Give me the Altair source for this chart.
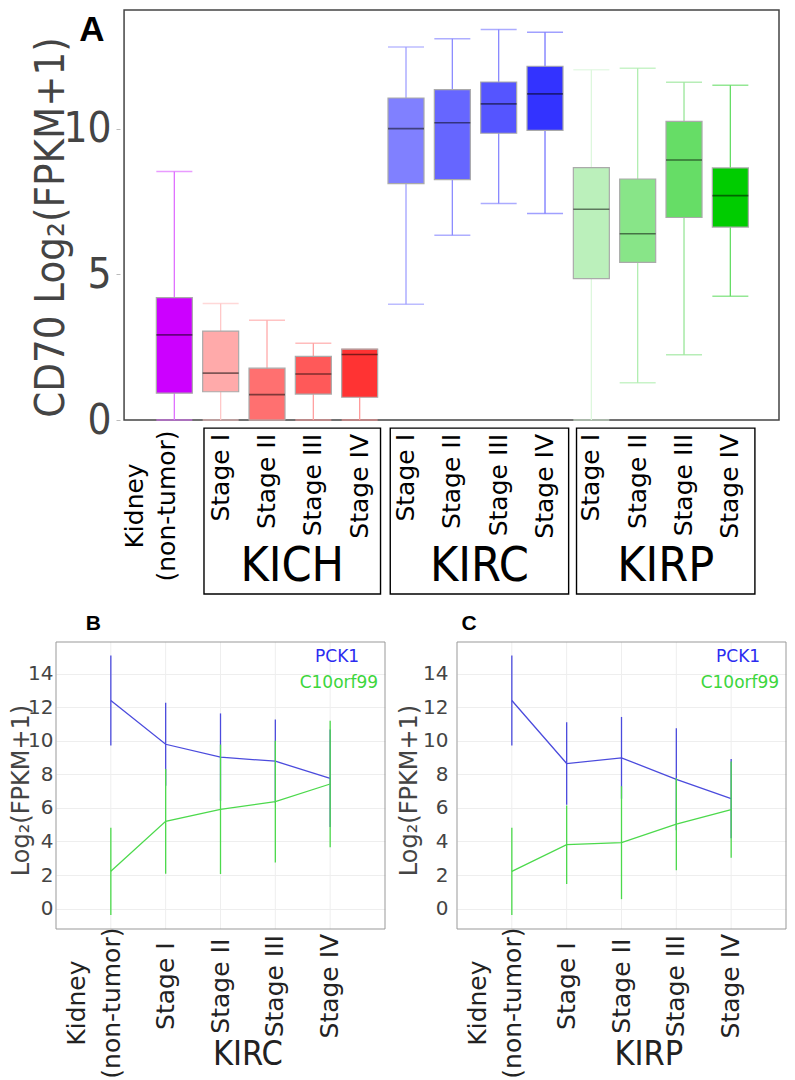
import altair as alt
import pandas as pd

# ---------------- Panel A data (CD70 boxplots) ----------------
a_pos = list(range(1, 14))
kidney_lines = ["Kidney", "(non-tumor)"]
stage_names = ["Stage I", "Stage II", "Stage III", "Stage IV"]
group_names = ["KICH", "KIRC", "KIRP"]
a_lo = [0, 0, 0, 0, 0, 3.97, 6.34, 7.43, 7.09, 0, 1.28, 2.24, 4.25]
a_q1 = [0.92, 0.97, 0, 0.89, 0.78, 8.11, 8.25, 9.84, 9.94, 4.85, 5.41, 6.95, 6.62]
a_med = [2.92, 1.61, 0.87, 1.58, 2.25, 10.0, 10.2, 10.85, 11.19, 7.23, 6.39, 8.92, 7.7]
a_q3 = [4.2, 3.05, 1.78, 2.18, 2.43, 11.05, 11.34, 11.6, 12.14, 8.66, 8.27, 10.25, 8.65]
a_hi = [8.53, 4.0, 3.42, 2.63, 2.43, 12.8, 13.08, 13.4, 13.31, 12.02, 12.07, 11.59, 11.49]
a_fill = ["#CC00FF", "#FFAAAA", "#FF7070", "#FF5959", "#FF3333",
          "#8080FF", "#6666FF", "#5555FF", "#3333FF",
          "#BBF0BB", "#88E588", "#66DD66", "#00CC00"]
a_whisk = ["#E070FF", "#FFC8C8", "#FFAAAA", "#FFA0A0", "#FF9999",
           "#A0A0FF", "#8C8CFF", "#8888FF", "#7777FF",
           "#DDF7DD", "#B0EEB0", "#99E699", "#66DD66"]

# layout of panel A (box-index units / value units)
a_x_view = [-1.446, 14.05]       # visible x range incl. room for the y axis
a_x_frame = [-0.085, 14.05]      # plot frame
a_y_frame = [0, 14.07]
group_x0 = [1.64, 5.66, 9.68]
group_x1 = [5.45, 9.51, 13.53]
frame_top = -0.28
frame_bottom = -5.97
group_label_y = -5.06
stage_label_top = -0.48
kidney_label_x = [0.15, 0.85]
kidney_label_y = -2.95
letter_a_pos = [-0.78, 13.4]

# ---------------- Panels B / C data ----------------
line_idx = [0, 1, 2, 3, 4]
kirc_pck_mean = [12.41, 9.8, 9.03, 8.79, 7.77]
kirc_pck_sd = [2.68, 2.47, 2.61, 2.49, 2.91]
kirc_c10_mean = [2.22, 5.2, 5.92, 6.38, 7.43]
kirc_c10_sd = [2.6, 3.13, 3.86, 3.63, 3.78]
kirp_pck_mean = [12.41, 8.65, 8.99, 7.71, 6.56]
kirp_pck_sd = [2.68, 2.46, 2.44, 3.04, 2.36]
kirp_c10_mean = [2.22, 3.81, 3.93, 5.04, 5.9]
kirp_c10_sd = [2.6, 2.34, 3.37, 2.75, 2.87]

# layout of panels B / C
bc_x_frame = [-1, 5]
bc_y_frame = [-1.22, 15.9]
bc_y_view_top = 17.69
bc_stage_y = -4.63
bc_kidney_x = [-0.61, 0.03]
bc_kidney_y = -5.64
bc_group_y = -8.75
bc_letter_y = 16.97

COND = "DejaVu Sans Condensed, DejaVu Sans"
SANS = "DejaVu Sans"
BOLD = "Liberation Sans, Arial"

# ================= Panel A =================
dfa = pd.DataFrame(dict(pos=a_pos, lo=a_lo, q1=a_q1, med=a_med, q3=a_q3,
                        hi=a_hi, fill=a_fill, whisk=a_whisk))

xs_a = alt.Scale(domain=a_x_view, nice=False, zero=False)
ys_a = alt.Scale(domain=a_y_frame, nice=False, zero=False)

ay_a = alt.Axis(
    values=[0, 5, 10], offset=-64, labelFont=COND, labelFontSize=42, labelColor="#444",
    labelPadding=5, tickSize=4, tickColor="#bbbbbb", domain=False, grid=False,
    labelOverlap=False, labelFlush=False,
    title="CD70 Log\u2082(FPKM+1)", titleFont=COND, titleFontSize=41.5,
    titleFontWeight="normal", titleColor="#444", titleAngle=270,
    titleBaseline="bottom", titleAlign="center", titleX=-48, titleY=217)


def XA(f):
    return alt.X(f"{f}:Q", scale=xs_a, axis=None)


def YA(f):
    return alt.Y(f"{f}:Q", scale=ys_a, axis=ay_a)


dframe_a = pd.DataFrame(dict(x0=[a_x_frame[0]], x1=[a_x_frame[1]],
                             y0=[a_y_frame[0]], y1=[a_y_frame[1]]))
frame_a = alt.Chart(dframe_a).mark_rect(filled=False, stroke="#444444",
                                        strokeWidth=1.5).encode(
    x=XA("x0"), x2="x1", y=YA("y0"), y2="y1")

base_a = alt.Chart(dfa)
whisk = base_a.mark_rule(strokeWidth=1.3).encode(
    x=XA("pos"), y=YA("lo"), y2="hi", color=alt.Color("whisk:N", scale=None))
cap_lo = base_a.mark_tick(orient="horizontal", size=36, thickness=1.5).encode(
    x=XA("pos"), y=YA("lo"), color=alt.Color("whisk:N", scale=None))
cap_hi = base_a.mark_tick(orient="horizontal", size=36, thickness=1.5).encode(
    x=XA("pos"), y=YA("hi"), color=alt.Color("whisk:N", scale=None))
boxes = base_a.mark_bar(size=36, stroke="#AAAAAA", strokeWidth=1.2).encode(
    x=XA("pos"), y=YA("q1"), y2="q3", fill=alt.Fill("fill:N", scale=None))
medians = base_a.mark_tick(orient="horizontal", size=36, thickness=1.6,
                           color="black", opacity=0.5).encode(
    x=XA("pos"), y=YA("med"))

# x labels
dst = pd.DataFrame(dict(x=a_pos[1:], t=stage_names * 3))
dst["y"] = stage_label_top
stage_txt = alt.Chart(dst).mark_text(font=SANS, fontSize=25, color="black", angle=270,
                                     align="right", baseline="middle").encode(
    x=XA("x"), y=YA("y"), text="t:N")
dkid = pd.DataFrame(dict(x=kidney_label_x, t=kidney_lines))
dkid["y"] = kidney_label_y
kid_txt = alt.Chart(dkid).mark_text(font=SANS, fontSize=25, color="black", angle=270,
                                    align="center", baseline="middle").encode(
    x=XA("x"), y=YA("y"), text="t:N")

dff = pd.DataFrame(dict(name=group_names, x0=group_x0, x1=group_x1))
dff["y0"] = frame_top
dff["y1"] = frame_bottom
dff["xc"] = (dff["x0"] + dff["x1"]) / 2
dff["yl"] = group_label_y
frames = alt.Chart(dff).mark_rect(filled=False, stroke="black", strokeWidth=1.4).encode(
    x=XA("x0"), x2="x1", y=YA("y0"), y2="y1")
glabels = alt.Chart(dff).mark_text(font=COND, fontSize=48, color="black",
                                   baseline="middle", align="center").encode(
    x=XA("xc"), y=YA("yl"), text="name:N")

dfl = pd.DataFrame(dict(x=[letter_a_pos[0]], y=[letter_a_pos[1]], t=["A"]))
letter_a = alt.Chart(dfl).mark_text(font=BOLD, fontSize=35, fontWeight="bold",
                                    color="black", align="center", baseline="middle").encode(
    x=XA("x"), y=YA("y"), text="t:N")

panel_a = alt.layer(frame_a, whisk, cap_lo, cap_hi, boxes, medians, stage_txt, kid_txt,
                    frames, glabels, letter_a).properties(
    width=728, height=410,
    view=alt.ViewBackground(stroke="transparent"))


# ================= Panels B / C =================
def line_panel(letter, letter_x, group, pck_m, pck_s, c10_m, c10_s,
               ylab_pad, ytitle_x):
    rows = []
    for gene, m, s in (("PCK1", pck_m, pck_s), ("C10orf99", c10_m, c10_s)):
        for i, mv, sv in zip(line_idx, m, s):
            rows.append(dict(gene=gene, idx=i, mean=mv, sd=sv))
    df = pd.DataFrame(rows)

    xs = alt.Scale(domain=bc_x_frame, nice=False, zero=False)
    ys = alt.Scale(domain=[bc_y_frame[0], bc_y_view_top], nice=False, zero=False)
    ay = alt.Axis(
        values=[0, 2, 4, 6, 8, 10, 12, 14], labelFont=SANS, labelFontSize=20,
        labelColor="#444", labelPadding=ylab_pad, ticks=False, domain=False,
        grid=True, gridColor="#EEEEEE", labelOverlap=False, labelFlush=False,
        title="Log\u2082(FPKM+1)", titleFont=SANS, titleFontSize=24,
        titleFontWeight="normal", titleColor="#444", titleAngle=270,
        titleBaseline="bottom", titleAlign="center", titleX=ytitle_x, titleY=178)

    def X(f):
        return alt.X(f"{f}:Q", scale=xs, axis=None)

    def Y(f):
        return alt.Y(f"{f}:Q", scale=ys, axis=ay)

    layers = []
    # vertical grid lines at the categories
    vg = pd.DataFrame(dict(x=line_idx))
    vg["y0"] = bc_y_frame[0]
    vg["y1"] = bc_y_frame[1]
    layers.append(alt.Chart(vg).mark_rule(color="#EEEEEE", strokeWidth=1).encode(
        x=X("x"), y=Y("y0"), y2="y1"))
    # frame
    fr = pd.DataFrame(dict(x0=[bc_x_frame[0]], x1=[bc_x_frame[1]],
                           y0=[bc_y_frame[0]], y1=[bc_y_frame[1]]))
    layers.append(alt.Chart(fr).mark_rect(filled=False, stroke="#999999",
                                          strokeWidth=1).encode(
        x=X("x0"), x2="x1", y=Y("y0"), y2="y1"))

    for gene, col in (("PCK1", "#4B4BDD"), ("C10orf99", "#4CD94C")):
        sub = alt.Chart(df).transform_filter(alt.datum.gene == gene).transform_calculate(
            lo="datum.mean - datum.sd", hi="datum.mean + datum.sd")
        layers.append(sub.mark_rule(color=col, strokeWidth=1.3).encode(
            x=X("idx"), y=Y("lo"), y2="hi"))
        layers.append(sub.mark_line(color=col, strokeWidth=1.3).encode(
            x=X("idx"), y=Y("mean")))

    leg1 = pd.DataFrame(dict(x=[4], y=[15.0], t=["PCK1"]))
    leg2 = pd.DataFrame(dict(x=[4], y=[13.45], t=["C10orf99"]))
    layers.append(alt.Chart(leg1).mark_text(
        font=SANS, fontSize=17, color="#2B2BF0", align="right", baseline="middle", dx=29
    ).encode(x=X("x"), y=Y("y"), text="t:N"))
    layers.append(alt.Chart(leg2).mark_text(
        font=SANS, fontSize=17, color="#3CD63C", align="right", baseline="middle", dx=48
    ).encode(x=X("x"), y=Y("y"), text="t:N"))

    # x labels
    st = pd.DataFrame(dict(x=line_idx[1:], t=stage_names))
    st["y"] = bc_stage_y
    layers.append(alt.Chart(st).mark_text(
        font=SANS, fontSize=25, color="#222", angle=270, align="center", baseline="middle"
    ).encode(x=X("x"), y=Y("y"), text="t:N"))
    kd = pd.DataFrame(dict(x=bc_kidney_x, t=kidney_lines))
    kd["y"] = bc_kidney_y
    layers.append(alt.Chart(kd).mark_text(
        font=SANS, fontSize=25, color="#222", angle=270, align="center", baseline="middle"
    ).encode(x=X("x"), y=Y("y"), text="t:N"))
    gt = pd.DataFrame(dict(x=[2.5], y=[bc_group_y], t=[group]))
    layers.append(alt.Chart(gt).mark_text(
        font=COND, fontSize=34, color="#222", align="center", baseline="middle"
    ).encode(x=X("x"), y=Y("y"), text="t:N"))
    # panel letter
    lt = pd.DataFrame(dict(x=[letter_x], y=[bc_letter_y], t=[letter]))
    layers.append(alt.Chart(lt).mark_text(
        font=BOLD, fontSize=21, fontWeight="bold", color="black", align="center",
        baseline="middle"
    ).encode(x=X("x"), y=Y("y"), text="t:N"))

    return alt.layer(*layers).properties(
        width=329, height=317,
        view=alt.ViewBackground(stroke="transparent"))


panel_b = line_panel("B", -0.32, "KIRC", kirc_pck_mean, kirc_pck_sd,
                     kirc_c10_mean, kirc_c10_sd, 3, -23)
panel_c = line_panel("C", -0.78, "KIRP", kirp_pck_mean, kirp_pck_sd,
                     kirp_c10_mean, kirp_c10_sd, 9, -36)

bottom = alt.hconcat(panel_b, panel_c, spacing=10)
chart = alt.vconcat(panel_a, bottom, spacing=15).properties(
    padding=0, background="white")

chart.save("out.html", embed_options={"renderer": "svg", "actions": False})
